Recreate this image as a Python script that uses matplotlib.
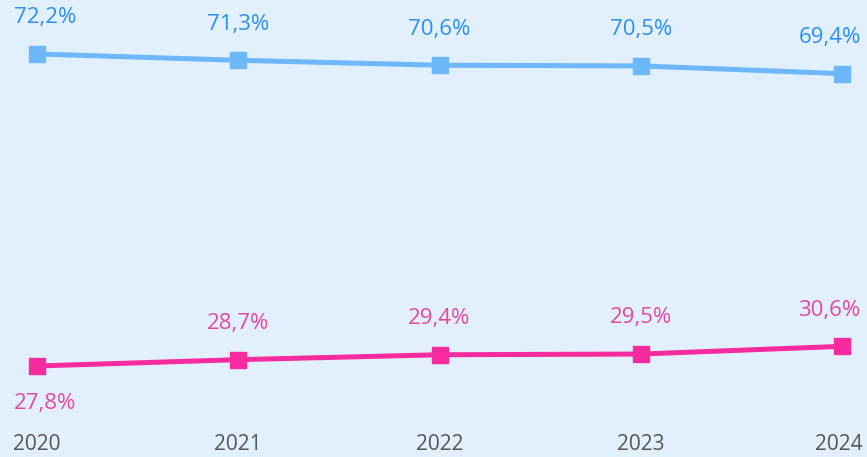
import matplotlib.pyplot as plt

years = ['2020', '2021', '2022', '2023', '2024']
blue_vals = [72.2, 71.3, 70.6, 70.5, 69.4]
pink_vals = [27.8, 28.7, 29.4, 29.5, 30.6]

bg = '#e1f0fc'
blue_line = '#6cb8fb'
blue_text = '#2d8ff0'
pink_line = '#f52b9e'
pink_text = '#e548a2'

plt.rcParams['font.family'] = ['Open Sans', 'DejaVu Sans']

fig = plt.figure(figsize=(8.67, 4.57), dpi=100)
fig.patch.set_facecolor(bg)
ax = fig.add_axes([0, 0, 1, 1])
ax.set_facecolor(bg)
ax.axis('off')

x = list(range(len(years)))
ax.plot(x, blue_vals, color=blue_line, lw=3.6, marker='s', ms=12,
        solid_capstyle='butt')
ax.plot(x, pink_vals, color=pink_line, lw=3.6, marker='s', ms=12,
        solid_capstyle='butt')

ax.set_xlim(-0.184, 4.124)
ax.set_ylim(14.85, 79.88)


def fmt(v):
    return f"{v:.1f}%".replace('.', ',')


# nudges so the end labels stay inside the figure
dx = [6, 0, 0, 0, -9]
for i, v in enumerate(blue_vals):
    ax.annotate(fmt(v), (i, v), xytext=(dx[i], 26), textcoords='offset points',
                ha='center', va='center', color=blue_text, fontsize=16)
for i, v in enumerate(pink_vals):
    dy = -27 if i == 0 else 26
    ax.annotate(fmt(v), (i, v), xytext=(dx[i], dy), textcoords='offset points',
                ha='center', va='center', color=pink_text, fontsize=16)

for i, y in enumerate(years):
    ax.annotate(y, (i, 14.85), xytext=(-2 if i == 4 else 0, 9),
                textcoords='offset points', ha='center', va='center',
                color='#555555', fontsize=15)

fig.savefig('out.png', dpi=100, facecolor=bg)
